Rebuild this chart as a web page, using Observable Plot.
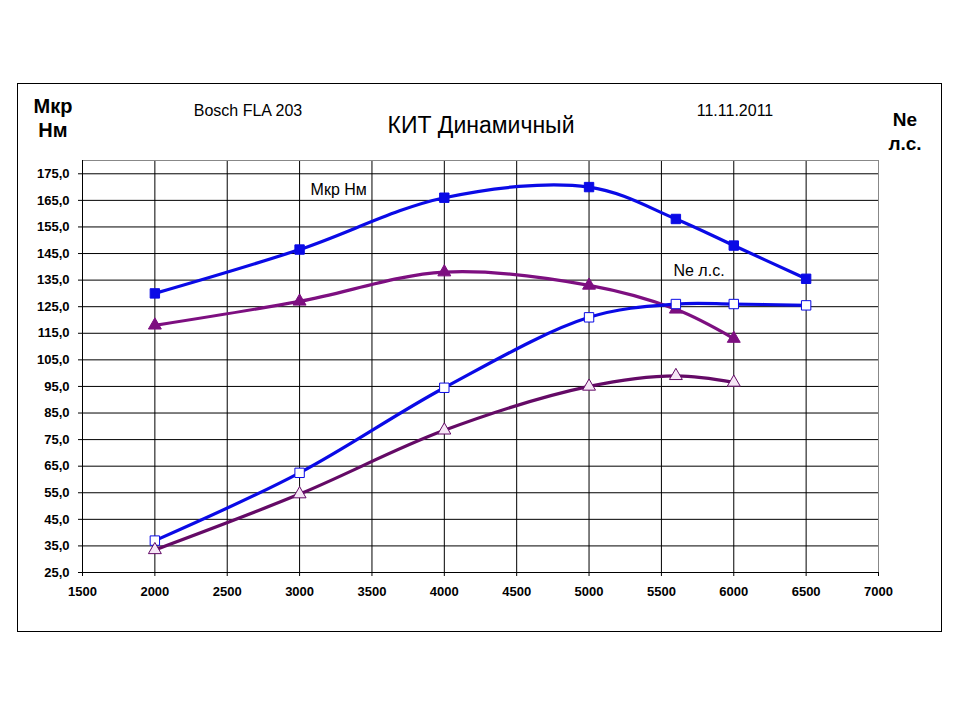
<!DOCTYPE html>
<html>
<head>
<meta charset="utf-8">
<script src="https://cdn.jsdelivr.net/npm/d3@7"></script>
<script src="https://cdn.jsdelivr.net/npm/@observablehq/plot@0.6"></script>
<style>
  html, body { margin: 0; padding: 0; background: #fff; }
  #wrap { position: relative; width: 960px; height: 720px; font-family: "Liberation Sans", Arial, sans-serif; }
  #frame { position: absolute; left: 17px; top: 83px; width: 925px; height: 549px; border: 1px solid #000; box-sizing: border-box; pointer-events: none; }
  .lbl { position: absolute; color: #000; white-space: nowrap; transform: translateX(-50%); text-align: center; }
  #chart { position: absolute; left: 0; top: 0; }
</style>
</head>
<body>
<div id="wrap">
  <div id="chart"></div>
  <div id="frame"></div>
  <div class="lbl" style="left:53px; top:94px; font-size:20px; font-weight:bold; line-height:24px;">Мкр<br>Нм</div>
  <div class="lbl" style="left:248px; top:102px; font-size:16px;">Bosch FLA 203</div>
  <div class="lbl" style="left:481px; top:112px; font-size:23px;">КИТ Динамичный</div>
  <div class="lbl" style="left:735px; top:102px; font-size:16px;">11.11.2011</div>
  <div class="lbl" style="left:905px; top:108px; font-size:19px; font-weight:bold; line-height:24px;">Ne<br>л.с.</div>
</div>
<script>
// RPM points
const rpm = [2000, 3000, 4000, 5000, 5600, 6000, 6500];
const rpmShort = [2000, 3000, 4000, 5000, 5600, 6000];
// Series 1: torque (blue, filled squares)
const torque1 = [130, 146.5, 166, 170, 158, 148, 135.5];
// Series 2: torque (purple, filled triangles)
const torque2 = [118, 127, 138, 133, 124, 113];
// Series 3: power (blue, open squares)
const power1 = [37, 62.5, 94.5, 121, 126, 126, 125.5];
// Series 4: power (purple, open triangles)
const power2 = [33.5, 54.5, 78.5, 95, 99, 96.5];

// Ticks
const xTicks = [1500, 2000, 2500, 3000, 3500, 4000, 4500, 5000, 5500, 6000, 6500, 7000];
const yTicks = [25, 35, 45, 55, 65, 75, 85, 95, 105, 115, 125, 135, 145, 155, 165, 175];

// In-chart labels
const annoText = ["Мкр Нм", "Ne л.с."];
const annoX = [3270, 5760];
const annoY = [168.8, 138.6];

const mk = (xs, ys) => xs.map((x, i) => ({x, y: ys[i]}));
const s1 = mk(rpm, torque1), s2 = mk(rpmShort, torque2), s3 = mk(rpm, power1), s4 = mk(rpmShort, power2);
const anno = annoText.map((t, i) => ({t, x: annoX[i], y: annoY[i]}));

const blue = "#0a0ae6", purpleT = "#7d0f80", purpleP = "#640a66";

const chart = Plot.plot({
  width: 960, height: 720,
  marginLeft: 82, marginRight: 82, marginTop: 160, marginBottom: 148,
  style: {fontFamily: "'Liberation Sans', Arial, sans-serif", background: "transparent"},
  x: {domain: [1500, 7000]},
  y: {domain: [25, 180]},
  marks: [
    Plot.gridX(xTicks, {stroke: "#000", strokeOpacity: 1}),
    Plot.gridY(yTicks, {stroke: "#000", strokeOpacity: 1}),
    Plot.frame({stroke: "#888"}),
    Plot.ruleX([1500], {stroke: "#000"}),
    Plot.ruleY([25], {stroke: "#000"}),
    Plot.axisX(xTicks, {tickSize: 4, tickPadding: 10, fontSize: 13, fontWeight: "bold", tickFormat: d => String(d), label: null}),
    Plot.axisY(yTicks, {tickSize: 4, tickPadding: 9, fontSize: 13, fontWeight: "bold", tickFormat: d => d.toFixed(1).replace(".", ","), label: null}),
    Plot.line(s1, {x: "x", y: "y", stroke: blue, strokeWidth: 3.2, curve: "catmull-rom"}),
    Plot.line(s2, {x: "x", y: "y", stroke: purpleT, strokeWidth: 3.2, curve: "catmull-rom"}),
    Plot.line(s3, {x: "x", y: "y", stroke: blue, strokeWidth: 3.2, curve: "catmull-rom"}),
    Plot.line(s4, {x: "x", y: "y", stroke: purpleP, strokeWidth: 3.2, curve: "catmull-rom"}),
    Plot.dot(s1, {x: "x", y: "y", symbol: "square", r: 5.3, fill: blue, stroke: blue, strokeWidth: 1}),
    Plot.dot(s2, {x: "x", y: "y", symbol: "triangle", r: 4.8, fill: purpleT, stroke: purpleT, strokeWidth: 1}),
    Plot.dot(s3, {x: "x", y: "y", symbol: "square", r: 5.3, fill: "#fff", stroke: blue, strokeWidth: 1}),
    Plot.dot(s4, {x: "x", y: "y", symbol: "triangle", r: 4.8, fill: "#f6e6f6", stroke: purpleP, strokeWidth: 1}),
    Plot.text(anno, {x: "x", y: "y", text: "t", fontSize: 16, fill: "#000"})
  ]
});
document.getElementById("chart").appendChild(chart);
</script>
</body>
</html>
